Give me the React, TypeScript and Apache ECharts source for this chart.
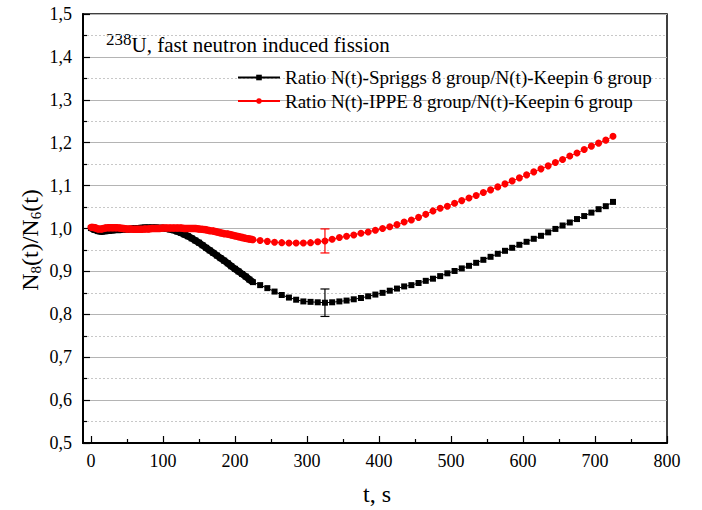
import React, { useEffect, useRef } from 'react';
import * as echarts from 'echarts';

const FONT = 'Liberation Serif';

// time (s), dense part of the measurement
const tDense = [0, 5, 10, 15, 20, 25, 30, 35, 40, 45, 50, 55, 60, 65, 70, 75, 80, 85, 90, 95,
  100, 105, 110, 115, 120, 125, 130, 135, 140, 145, 150, 155, 160, 165, 170, 175, 180, 185, 190, 195,
  200, 205, 210, 215, 220];
// time (s), sparse part
const tSparse = [225, 235, 245, 255, 265, 275, 285, 295, 305, 315,
  325, 335, 345, 355, 365, 375, 385, 395, 405, 415,
  425, 435, 445, 455, 465, 475, 485, 495, 505, 515,
  525, 535, 545, 555, 565, 575, 585, 595, 605, 615,
  625, 635, 645, 655, 665, 675, 685, 695, 705, 715, 725];

const spriggsDense = [1.001, 0.997, 0.994, 0.993, 0.994, 0.995, 0.996, 0.997, 0.997, 0.998,
  0.998, 0.999, 1.000, 1.000, 1.001, 1.002, 1.002, 1.002, 1.002, 1.001,
  1.001, 1.000, 0.998, 0.996, 0.993, 0.990, 0.986, 0.982, 0.977, 0.972,
  0.967, 0.961, 0.955, 0.949, 0.943, 0.937, 0.931, 0.925, 0.919, 0.912,
  0.906, 0.900, 0.894, 0.888, 0.881];
const spriggsSparse = [0.875, 0.868, 0.861, 0.853, 0.845, 0.839, 0.834, 0.830, 0.829, 0.828,
  0.827, 0.828, 0.830, 0.832, 0.835, 0.838, 0.842, 0.846, 0.850, 0.855,
  0.860, 0.865, 0.868, 0.873, 0.878, 0.883, 0.889, 0.8955, 0.901, 0.907,
  0.913, 0.920, 0.927, 0.934, 0.941, 0.948, 0.955, 0.962, 0.969, 0.976,
  0.983, 0.991, 0.999, 1.007, 1.014, 1.022, 1.029, 1.037, 1.045, 1.052, 1.062];

const ippeDense = [1.003, 1.002, 0.999, 0.999, 1.001, 1.002, 1.002, 1.002, 1.001, 1.000,
  0.999, 0.999, 0.998, 0.998, 0.998, 0.999, 0.999, 1.000, 1.000, 1.000,
  1.001, 1.001, 1.001, 1.001, 1.001, 1.001, 1.000, 1.000, 1.000, 1.000,
  0.999, 0.998, 0.997, 0.995, 0.994, 0.992, 0.990, 0.988, 0.987, 0.985,
  0.983, 0.981, 0.979, 0.977, 0.9755];
const ippeSparse = [0.974, 0.972, 0.970, 0.968, 0.967, 0.966, 0.966, 0.966, 0.967, 0.969,
  0.971, 0.975, 0.979, 0.982, 0.985, 0.989, 0.992, 0.996, 1.000, 1.004,
  1.009, 1.015, 1.020, 1.026, 1.033, 1.041, 1.047, 1.052, 1.059, 1.065,
  1.071, 1.077, 1.084, 1.090, 1.097, 1.104, 1.111, 1.118, 1.125, 1.132,
  1.139, 1.146, 1.154, 1.161, 1.169, 1.176, 1.184, 1.192, 1.199, 1.206, 1.215];

// error bars
const errT = [325];
const spriggsErrLow = [0.795];
const spriggsErrHigh = [0.859];
const ippeErrLow = [0.943];
const ippeErrHigh = [0.999];

const xTickLabels = [0, 100, 200, 300, 400, 500, 600, 700, 800];
const xMinorTicks = [50, 150, 250, 350, 450, 550, 650, 750];

const seriesNames = [
  'Ratio N(t)-Spriggs 8 group/N(t)-Keepin 6 group',
  'Ratio N(t)-IPPE 8 group/N(t)-Keepin 6 group',
];

export default function App() {
  const ref = useRef<HTMLDivElement>(null);
  useEffect(() => {
    const chart = echarts.init(ref.current!, null, { renderer: 'svg' });
    const pair = (ts: number[], vs: number[]) => vs.map((v, i) => [ts[i], v]);
    const lastDense = tDense.length - 1;
    const spriggs = [...pair(tDense, spriggsDense), ...pair(tSparse, spriggsSparse)];
    const ippe = [...pair(tDense, ippeDense), ...pair(tSparse, ippeSparse)];
    const spriggsBand = pair(tDense, spriggsDense).concat([[tSparse[0], spriggsSparse[0]]]);
    const ippeBand = pair(tDense, ippeDense).concat([[tSparse[0], ippeSparse[0]]]);
    void lastDense;
    const errData = (lo: number[], hi: number[]) => errT.map((t, i) => [t, lo[i], hi[i]]);

    const errorBarItem = (color: string) => (params: any, api: any) => {
      const x = api.value(0);
      const pLo = api.coord([x, api.value(1)]);
      const pHi = api.coord([x, api.value(2)]);
      const w = 4.5;
      const style = { stroke: color, lineWidth: 1.2 };
      return {
        type: 'group',
        children: [
          { type: 'line', shape: { x1: pLo[0], y1: pLo[1], x2: pHi[0], y2: pHi[1] }, style },
          { type: 'line', shape: { x1: pLo[0] - w, y1: pLo[1], x2: pLo[0] + w, y2: pLo[1] }, style },
          { type: 'line', shape: { x1: pHi[0] - w, y1: pHi[1], x2: pHi[0] + w, y2: pHi[1] }, style },
        ],
      };
    };

    const option: any = {
      animation: false,
      backgroundColor: '#fff',
      textStyle: { fontFamily: FONT },
      grid: {
        left: 83, right: 35, top: 14, bottom: 67,
        show: true, borderColor: '#000', borderWidth: 1.5, backgroundColor: 'transparent',
      },
      legend: {
        data: seriesNames,
        orient: 'vertical',
        left: 237,
        top: 68,
        padding: 0,
        itemWidth: 42,
        itemHeight: 7,
        itemGap: 4.5,
        textStyle: { fontFamily: FONT, fontSize: 19, color: '#000', lineHeight: 19 },
      },
      xAxis: [
        {
          type: 'value', min: -11, max: 800, position: 'bottom',
          axisLine: { show: true, onZero: false, lineStyle: { color: '#000', width: 2 } },
          axisTick: { show: true, inside: true, length: 7, customValues: xTickLabels, lineStyle: { color: '#000', width: 1.2 } },
          axisLabel: { customValues: xTickLabels, margin: 9, color: '#000', fontFamily: FONT, fontSize: 18 },
          splitLine: { show: false },
        },
        {
          type: 'value', min: -11, max: 800, position: 'bottom',
          axisLine: { show: false },
          axisTick: { show: true, inside: true, length: 4, customValues: xMinorTicks, lineStyle: { color: '#000', width: 1.2 } },
          axisLabel: { show: false },
          splitLine: { show: false },
        },
      ],
      yAxis: {
        type: 'value', min: 0.5, max: 1.5, interval: 0.1,
        axisLine: { show: true, onZero: false, lineStyle: { color: '#000', width: 2 } },
        axisTick: { show: true, inside: true, length: 7, lineStyle: { color: '#000', width: 1.2 } },
        minorTick: { show: true, splitNumber: 2, length: 4, lineStyle: { color: '#000', width: 1.2 } },
        axisLabel: {
          margin: 11, color: '#000', fontFamily: FONT, fontSize: 18,
          formatter: (v: number) => v.toFixed(1).replace('.', ','),
        },
        splitLine: { show: true, lineStyle: { color: '#b4b4b4', width: 1.2 } },
        minorSplitLine: { show: true, lineStyle: { color: '#c8c8c8', width: 1, type: [2, 2] } },
      },
      series: [
        {
          name: 'spriggsBand', type: 'line', data: spriggsBand,
          symbol: 'none', lineStyle: { color: '#000', width: 7 }, z: 3, silent: true,
        },
        {
          name: seriesNames[0], type: 'line', data: spriggs,
          symbol: 'rect', symbolSize: 6, showSymbol: true,
          lineStyle: { color: '#000', width: 1 }, itemStyle: { color: '#000' },
          z: 3,
        },
        {
          name: 'ippeBand', type: 'line', data: ippeBand,
          symbol: 'none', lineStyle: { color: '#ff0000', width: 7.5 }, z: 4, silent: true,
        },
        {
          name: seriesNames[1], type: 'line', data: ippe,
          symbol: 'circle', symbolSize: 7, showSymbol: true,
          lineStyle: { color: '#ff0000', width: 1 }, itemStyle: { color: '#ff0000' },
          z: 4,
        },
        {
          name: 'errSpriggs', type: 'custom', data: errData(spriggsErrLow, spriggsErrHigh),
          encode: { x: 0, y: [1, 2] }, renderItem: errorBarItem('#000'), z: 5,
        },
        {
          name: 'errIppe', type: 'custom', data: errData(ippeErrLow, ippeErrHigh),
          encode: { x: 0, y: [1, 2] }, renderItem: errorBarItem('#ff0000'), z: 5,
        },
      ],
      graphic: [
        {
          type: 'text', x: 106, y: 45,
          style: {
            text: '{sup|238}{main|U, fast neutron induced fission}',
            verticalAlign: 'middle',
            rich: {
              sup: { fontSize: 17, fontFamily: FONT, fill: '#000', padding: [0, 0, 12, 0] },
              main: { fontSize: 21, fontFamily: FONT, fill: '#000' },
            },
          },
        },
        {
          type: 'text', x: 377, y: 494,
          style: { text: 't, s', fontSize: 24, fontFamily: FONT, fill: '#000', align: 'center', verticalAlign: 'middle' },
        },
        {
          type: 'text', x: 30, y: 240, rotation: Math.PI / 2,
          style: {
            text: '{n|N}{s|8}{n|(t)/N}{s|6}{n|(t)}',
            align: 'center', verticalAlign: 'middle',
            rich: {
              n: { fontSize: 24, fontFamily: FONT, fill: '#000' },
              s: { fontSize: 15, fontFamily: FONT, fill: '#000', padding: [12, 0, 0, 0] },
            },
          },
        },
      ],
    };
    chart.setOption(option);
    return () => chart.dispose();
  }, []);
  return <div ref={ref} style={{ position: 'fixed', left: 0, top: 0, width: 702, height: 510 }} />;
}
